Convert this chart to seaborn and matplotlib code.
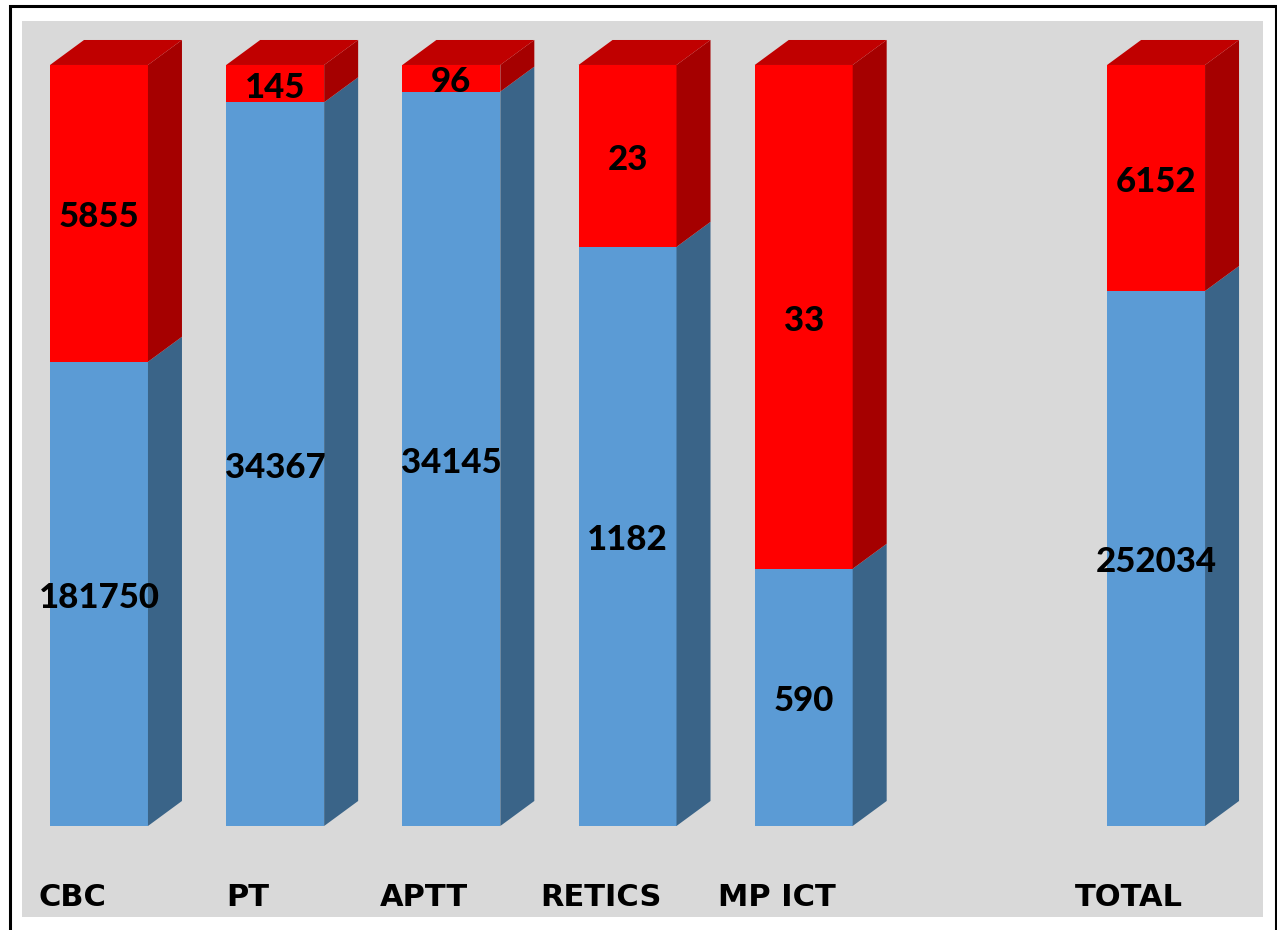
import pandas as pd
import seaborn as sns
import matplotlib.pyplot as plt
from matplotlib.patches import Polygon, Rectangle

# Data
tests = ["CBC", "PT", "APTT", "RETICS", "MP ICT", "TOTAL"]
ok_counts = [181750, 34367, 34145, 1182, 590, 252034]
bad_counts = [5855, 145, 96, 23, 33, 6152]
# share of the bar taken by the blue part (as drawn in the picture)
ok_share = [0.610, 0.951, 0.965, 0.761, 0.338, 0.703]
slot_order = ["CBC", "PT", "APTT", "RETICS", "MP ICT", "", "TOTAL"]

df = pd.DataFrame({"test": tests, "ok": ok_share, "full": [1.0] * len(tests)})

FRONT_RED, TOP_RED, SIDE_RED = "#ff0000", "#c00000", "#a50000"
FRONT_BLUE, SIDE_BLUE = "#5b9bd5", "#3a6488"

sns.set_theme(style="white")

W, H = 1277, 930
fig = plt.figure(figsize=(W / 100, H / 100), dpi=100, facecolor="white")
ax = fig.add_axes([22 / W, (H - 917) / H, (1263 - 22) / W, (917 - 21) / H])
ax.set_facecolor("#d9d9d9")

# front faces
sns.barplot(data=df, x="test", y="full", order=slot_order, color=FRONT_RED,
            saturation=1, width=0.556, ax=ax, edgecolor="none")
n_red = len(ax.patches)
sns.barplot(data=df, x="test", y="ok", order=slot_order, color=FRONT_BLUE,
            saturation=1, width=0.556, ax=ax, edgecolor="none")
red_bars = [p for p in ax.patches[:n_red] if p.get_height() > 0]
blue_bars = [p for p in ax.patches[n_red:] if p.get_height() > 0]

ax.set_xlim(-0.437, 6.607)
ax.set_ylim(-0.1196, 1.0578)

# depth of the fake 3D boxes in data units
dx, dy = 34 / 176.17, 25 / 761

for rb, bb in zip(red_bars, blue_bars):
    x0, w = rb.get_x(), rb.get_width()
    x1 = x0 + w
    top = rb.get_height()
    split = bb.get_height()
    # side of blue part
    ax.add_patch(Polygon([(x1, 0), (x1 + dx, dy), (x1 + dx, split + dy), (x1, split)],
                         closed=True, facecolor=SIDE_BLUE, edgecolor="none", zorder=1))
    # side of red part
    ax.add_patch(Polygon([(x1, split), (x1 + dx, split + dy), (x1 + dx, top + dy), (x1, top)],
                         closed=True, facecolor=SIDE_RED, edgecolor="none", zorder=1))
    # top
    ax.add_patch(Polygon([(x0, top), (x0 + dx, top + dy), (x1 + dx, top + dy), (x1, top)],
                         closed=True, facecolor=TOP_RED, edgecolor="none", zorder=1))

# value labels
nudge = 4 / 761
for i, (rb, bb) in enumerate(zip(red_bars, blue_bars)):
    cx = rb.get_x() + rb.get_width() / 2
    split = bb.get_height()
    ax.text(cx, split / 2 - nudge, str(ok_counts[i]), ha="center", va="center",
            fontsize=25, fontweight=900, family="Lato", color="black", zorder=5)
    ax.text(cx, (split + rb.get_height()) / 2 - nudge, str(bad_counts[i]), ha="center",
            va="center", fontsize=25, fontweight=900, family="Lato", color="black", zorder=5)

# category labels under the bars
for i, rb in enumerate(red_bars):
    cx = rb.get_x() + rb.get_width() / 2 - 27 / 176.17
    ax.text(cx, -0.094, tests[i], ha="center", va="center", fontsize=22,
            fontweight="bold", family="DejaVu Sans", color="black")

ax.set_xticks([])
ax.set_yticks([])
ax.set_xlabel("")
ax.set_ylabel("")
for s in ax.spines.values():
    s.set_visible(False)

# outer frame (open at the bottom edge of the image)
fig.add_artist(Rectangle((9.5 / W, -0.05), (1275.5 - 9.5) / W, 1.05 - 6.5 / H,
                         transform=fig.transFigure, fill=False, edgecolor="black",
                         linewidth=2.2))

fig.savefig("out.png", dpi=100, facecolor="white")
